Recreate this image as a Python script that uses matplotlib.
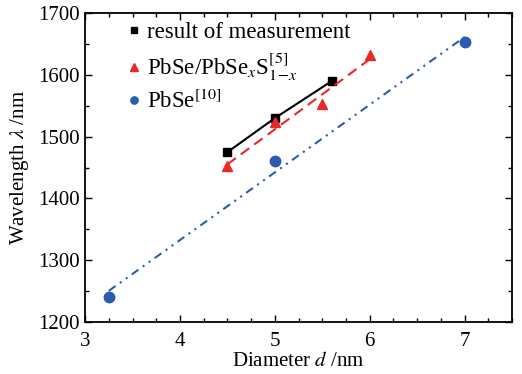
import matplotlib
matplotlib.use("Agg")
import matplotlib.pyplot as plt
from matplotlib.ticker import MultipleLocator
import numpy as np

# data
d_meas = [4.5, 5.0, 5.6]
wl_meas = [1475, 1530, 1590]

d_pbses = [4.5, 5.0, 5.5, 6.0]
wl_pbses = [1453, 1523, 1553, 1632]

d_pbse = [3.25, 5.0, 7.0]
wl_pbse = [1241, 1460, 1653]

plt.rcParams['font.family'] = ['Liberation Serif', 'DejaVu Serif']
plt.rcParams['mathtext.fontset'] = 'stix'

fig = plt.figure(figsize=(5.22, 3.74), dpi=100)
ax = fig.add_axes([0.163, 0.139, 0.818, 0.826])

red = '#e8282b'
blue = '#2a5db0'

# measurement: connected line
ax.plot(d_meas, wl_meas, color='black', lw=1.5)
ax.plot(d_meas, wl_meas, 's', color='black', ms=6, label='result of measurement')

# linear fits
k, b = np.polyfit(d_pbses, wl_pbses, 1)
xs = np.array([d_pbses[0], d_pbses[-1]])
ax.plot(xs, k * xs + b, color=red, lw=1.5, dashes=(5, 3))
ax.plot(d_pbses, wl_pbses, '^', color=red, ms=7.5,
        label=r'PbSe/PbSe$_{x}$S$_{1\!-\!x}^{[5]}$')

k2, b2 = np.polyfit(d_pbse, wl_pbse, 1)
xs2 = np.array([d_pbse[0], d_pbse[-1]])
ax.plot(xs2, k2 * xs2 + b2, color=blue, lw=1.5, dashes=(4, 2.5, 1, 2.5, 1, 2.5))
ax.plot(d_pbse, wl_pbse, 'o', color=blue, ms=7.5, label=r'PbSe$^{[10]}$')

ax.set_xlim(3, 7.5)
ax.set_ylim(1200, 1700)
ax.xaxis.set_major_locator(MultipleLocator(1))
ax.xaxis.set_minor_locator(MultipleLocator(0.25))
ax.yaxis.set_major_locator(MultipleLocator(100))
ax.yaxis.set_minor_locator(MultipleLocator(50))
ax.tick_params(which='both', direction='in', top=True, right=True,
               labelsize=15, width=1)
ax.tick_params(which='major', length=5)
ax.tick_params(which='minor', length=3)
ax.tick_params(axis='x', pad=7)
ax.tick_params(axis='y', pad=4)
for s in ax.spines.values():
    s.set_linewidth(1.3)

ax.set_xlabel(r'Diameter $d$ /nm', fontsize=15, labelpad=1)
ax.set_ylabel(r'Wavelength $\lambda$ /nm', fontsize=15, labelpad=5)

ax.legend(loc='upper left', frameon=False, fontsize=16.5, handlelength=0.5,
          handletextpad=0.3, labelspacing=0.3, borderaxespad=0.2,
          bbox_to_anchor=(0.07, 1.015), markerscale=0.7)

fig.savefig('out.png', dpi=100)
